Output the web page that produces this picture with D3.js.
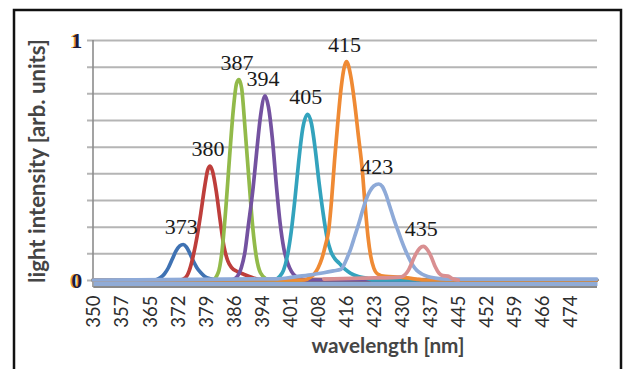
<!DOCTYPE html>
<html>
<head>
<meta charset="utf-8">
<script src="https://cdn.jsdelivr.net/npm/d3@7"></script>
<style>
  html, body { margin: 0; padding: 0; background: #ffffff; }
  svg { display: block; }
</style>
</head>
<body>
<script>
// ---------------- DATA ----------------
const wavelengthTicks = [350,357,365,372,379,386,394,401,408,416,423,430,437,445,452,459,466,474];
const yTickLabels = ["0","","","","","","","","","1"];
const peakLabels = ["373","380","387","394","405","415","423","435"];
const seriesColors = ["#3f72b3","#be3e3b","#92ba4a","#7452a0","#33a3bd","#ef8a34","#8eaad8","#d98f91"];

const s373 = [[350,0],[366,0],[367.5,0.01],[368.5,0.025],[369.5,0.05],[370.5,0.085],[371.5,0.12],[372.5,0.142],[373.4,0.148],[374.2,0.138],[375,0.115],[376,0.08],[377,0.05],[378,0.03],[379,0.015],[380.5,0.005],[382,0],[481,0]];
const s380 = [[350,0],[372.5,0],[374,0.01],[375,0.04],[376,0.1],[377,0.18],[378,0.28],[379,0.39],[379.8,0.46],[380.4,0.475],[381,0.455],[382,0.37],[383,0.25],[384,0.14],[385,0.08],[386,0.052],[387.5,0.035],[389,0.025],[391,0.012],[393,0.003],[481,0]];
const s387 = [[350,0],[381,0],[382.5,0.03],[383.5,0.12],[384.5,0.3],[385.5,0.52],[386.5,0.72],[387.3,0.82],[387.9,0.835],[388.6,0.8],[389.5,0.63],[390.5,0.42],[391.5,0.22],[392.5,0.09],[393.5,0.03],[395,0.005],[396,0],[481,0]];
const s394 = [[350,0],[386,0],[387.5,0.015],[388.5,0.05],[389.5,0.12],[390.3,0.22],[391.6,0.385],[392.5,0.53],[393.5,0.68],[394.7,0.767],[395.6,0.72],[396.6,0.59],[397.7,0.385],[398.6,0.24],[399.6,0.13],[400.6,0.07],[401.6,0.035],[402.6,0.016],[404,0.005],[405,0],[481,0]];
const s405 = [[350,0],[397,0],[398.5,0.015],[399.5,0.04],[400.5,0.1],[401.5,0.2],[402.5,0.34],[403.5,0.5],[404.5,0.63],[405.8,0.69],[406.8,0.65],[407.8,0.54],[408.8,0.4],[409.8,0.28],[410.8,0.18],[411.8,0.12],[412.8,0.09],[414,0.07],[415.5,0.045],[417,0.028],[419,0.015],[421,0.008],[423,0],[481,0]];
const s415 = [[350,0],[405,0],[406.5,0.012],[407.5,0.025],[408.5,0.05],[409.5,0.09],[410.5,0.15],[411.2,0.2],[412,0.33],[412.8,0.5],[413.6,0.65],[414.5,0.8],[415.9,0.91],[417,0.85],[418,0.74],[419,0.6],[420,0.46],[420.8,0.3],[421.5,0.18],[422.2,0.1],[423,0.05],[424,0.025],[426,0.015],[430,0.012],[434,0.004],[436,0],[481,0]];
const s423 = [[350,0],[398,0.005],[402,0.012],[406,0.02],[410,0.03],[412.5,0.038],[414.5,0.045],[415.3,0.065],[416,0.09],[417,0.13],[418,0.18],[419,0.23],[420,0.285],[421,0.335],[422,0.37],[423,0.392],[424.3,0.4],[425.2,0.39],[426.2,0.355],[427.2,0.305],[428.2,0.255],[429.2,0.21],[430.2,0.165],[431.2,0.125],[432.2,0.09],[433.2,0.06],[434.2,0.04],[435.5,0.025],[437,0.015],[439,0.008],[442,0.004],[481,0.004]];
const s435 = [[410,0.004],[420,0.008],[428,0.01],[430,0.012],[431,0.02],[432,0.04],[433,0.075],[434,0.11],[435,0.133],[435.9,0.14],[437,0.125],[438,0.095],[439,0.055],[440,0.028],[441,0.018],[442.3,0.016],[443.5,0.005],[445,0]];
const allSeries = [s373, s380, s387, s394, s405, s415, s423, s435];

// ---------------- LAYOUT ----------------
const W = 625, H = 369;
const plotLeft = 93.3, plotRight = 597, plotTop = 40, plotBottom = 280;

const svg = d3.select("body").append("svg").attr("width", W).attr("height", H);

// outer frame
svg.append("rect").attr("x", 14).attr("y", 10).attr("width", 607).attr("height", 380)
  .attr("fill", "none").attr("stroke", "#111").attr("stroke-width", 2.5);

const x = d3.scaleLinear().domain([350, 481.1]).range([plotLeft, plotRight]);
const y = d3.scaleLinear().domain([0, 1]).range([plotBottom, plotTop]);

const nomStep = (wavelengthTicks[wavelengthTicks.length-1] - wavelengthTicks[0]) / (wavelengthTicks.length - 1);
const tickPos = wavelengthTicks.map((d, i) => wavelengthTicks[0] + i * nomStep);
const yTickVals = yTickLabels.map((d, i) => i / (yTickLabels.length - 1));

// gridlines
const grid = svg.append("g").attr("transform", `translate(87,0)`)
  .call(d3.axisLeft(y).tickValues(yTickVals).tickSize(-(plotRight - 87)).tickFormat(""));
grid.select(".domain").remove();
grid.selectAll(".tick line").attr("stroke", "#b5b5b5").attr("stroke-width", 2);

// y axis line
svg.append("line").attr("x1", plotLeft - 0.3).attr("x2", plotLeft - 0.3)
  .attr("y1", plotTop).attr("y2", plotBottom + 7)
  .attr("stroke", "#8c8c8c").attr("stroke-width", 1.6);

// y tick labels with orange shadow
const yLab = svg.append("g").selectAll("g").data(yTickLabels.map((t, i) => ({t, v: yTickVals[i]})).filter(d => d.t !== ""))
  .join("g");
yLab.append("text").attr("x", 80.8).attr("y", d => y(d.v)).attr("dy", "0.36em")
  .attr("text-anchor", "end").attr("font-family", "Liberation Serif, serif").attr("font-weight", "bold")
  .attr("font-size", 22).attr("fill", "#eea030").text(d => d.t);
yLab.append("text").attr("x", 82.3).attr("y", d => y(d.v)).attr("dy", "0.36em")
  .attr("text-anchor", "end").attr("font-family", "Liberation Serif, serif").attr("font-weight", "bold")
  .attr("font-size", 22).attr("fill", "#1c1c3c").text(d => d.t);

// x axis: gray base line under a light band of near-zero noise
svg.append("line").attr("x1", plotLeft).attr("x2", plotRight)
  .attr("y1", plotBottom + 7).attr("y2", plotBottom + 7)
  .attr("stroke", "#8a8a8a").attr("stroke-width", 2.2);
const xAxis = svg.append("g").attr("transform", `translate(0,${plotBottom + 2.5})`)
  .call(d3.axisBottom(x).tickValues(tickPos).tickSize(0).tickSizeOuter(0)
    .tickFormat((d, i) => wavelengthTicks[i]));
xAxis.select(".domain").attr("stroke", "#90abd6").attr("stroke-width", 6);
xAxis.selectAll(".tick text")
  .attr("transform", "rotate(-90)").attr("text-anchor", "end")
  .attr("x", -13).attr("y", 0).attr("dy", "0.36em")
  .attr("font-family", "Lato, sans-serif").attr("font-size", 18.5).attr("fill", "#2e2e2e");

// series
const line = d3.line().x(d => x(d[0])).y(d => y(d[1])).curve(d3.curveMonotoneX);
svg.append("g").selectAll("path").data(allSeries).join("path")
  .attr("d", line).attr("fill", "none")
  .attr("stroke", (d, i) => seriesColors[i]).attr("stroke-width", 3.7)
  .attr("stroke-linejoin", "round").attr("stroke-linecap", "round");

// peak labels
svg.append("g").selectAll("text").data(allSeries).join("text")
  .attr("x", d => x(d3.greatest(d, p => p[1])[0]) - 2)
  .attr("y", d => y(d3.greatest(d, p => p[1])[1]) - 10)
  .attr("text-anchor", "middle").attr("font-family", "Liberation Serif, serif")
  .attr("font-size", 22).attr("fill", "#1a1a1a")
  .text((d, i) => peakLabels[i]);

// axis titles fitted to measured spans
function fit(sel, target) {
  const len = sel.node().getComputedTextLength();
  const fs = parseFloat(sel.attr("font-size"));
  sel.attr("font-size", fs * target / len);
}
const xt = svg.append("text").attr("x", 388).attr("y", 353).attr("text-anchor", "middle")
  .attr("font-family", "Lato, sans-serif").attr("font-weight", "bold").attr("font-size", 20)
  .attr("fill", "#454545").text("wavelength [nm]");
fit(xt, 153);
const yt = svg.append("text").attr("transform", "translate(45,161) rotate(-90)").attr("text-anchor", "middle")
  .attr("font-family", "Lato, sans-serif").attr("font-weight", "bold").attr("font-size", 20)
  .attr("fill", "#454545").text("light intensity [arb. units]");
fit(yt, 244);
</script>
</body>
</html>
